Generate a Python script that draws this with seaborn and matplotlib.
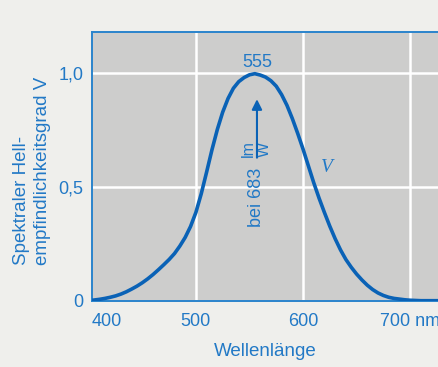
import numpy as np
import pandas as pd
import matplotlib
matplotlib.use("Agg")
import matplotlib.pyplot as plt
from matplotlib.transforms import blended_transform_factory
import seaborn as sns

# Data (spectral luminous efficiency V)
wavelength = [400, 405, 410, 415, 420, 425, 430, 435, 440, 445, 450, 455, 460, 465,
              470, 475, 480, 485, 490, 495, 500, 505, 510, 515, 520, 525, 530, 535,
              540, 545, 550, 555, 560, 565, 570, 575, 580, 585, 590, 595, 600, 605,
              610, 615, 620, 625, 630, 635, 640, 645, 650, 655, 660, 665, 670, 675,
              680, 685, 690, 695, 700, 710, 720, 730]
v_values = [0.000, 0.003, 0.006, 0.010, 0.015, 0.021, 0.029, 0.039, 0.051, 0.064,
            0.079, 0.096, 0.115, 0.136, 0.158, 0.181, 0.207, 0.240, 0.278, 0.326,
            0.388, 0.470, 0.565, 0.663, 0.752, 0.828, 0.888, 0.933, 0.962, 0.980,
            0.992, 0.997, 0.991, 0.982, 0.966, 0.942, 0.905, 0.858, 0.800, 0.735,
            0.666, 0.592, 0.518, 0.450, 0.387, 0.327, 0.272, 0.223, 0.181, 0.147,
            0.117, 0.091, 0.068, 0.049, 0.034, 0.023, 0.015, 0.010, 0.007, 0.004,
            0.002, 0.000, 0.000, 0.000]
x_ticks = [500, 600, 700]
x_ticklabels = ["500", "600", "700 nm"]
y_ticks = [0, 0.5, 1.0]
y_ticklabels = ["0", "0,5", "1,0"]
peak_wavelength = 555

df = pd.DataFrame({"Wellenlänge": wavelength, "V": v_values})

sns.set_theme(style="white")
plt.rcParams['font.family'] = ['Liberation Sans', 'DejaVu Sans']

TEXT = "#2279c6"
CURVE = "#0a62b6"
SPINE = "#2a84cc"
PLOTBG = "#cdcdcc"
PAGEBG = "#efefec"

fig = plt.figure(figsize=(4.38, 3.67), dpi=100, facecolor=PAGEBG)
ax = fig.add_axes([92/438, 1 - 300.7/367, 1 - 92/438, (300.7 - 32)/367])
ax.set_facecolor(PLOTBG)

sns.lineplot(data=df, x="Wellenlänge", y="V", ax=ax, color=CURVE, linewidth=2.6,
             zorder=3, sort=True)

ax.set_xlim(403, 726)
ax.set_ylim(0, 1.18)

ax.set_xticks(x_ticks)
ax.set_xticklabels(x_ticklabels)
ax.set_yticks(y_ticks)
ax.set_yticklabels(y_ticklabels)
ax.tick_params(axis='both', length=0, labelsize=13, colors=TEXT)
ax.tick_params(axis='x', pad=9)
ax.tick_params(axis='y', pad=6)

ax.grid(True, color="white", linewidth=1.8, zorder=1)
ax.set_axisbelow(True)

for side in ["left", "top", "bottom"]:
    ax.spines[side].set_visible(True)
    ax.spines[side].set_color(SPINE)
    ax.spines[side].set_linewidth(1.4)
ax.spines["right"].set_visible(False)

ax.set_xlabel("")
ax.set_ylabel("")

# "400" label sits just right of the axis
trans = blended_transform_factory(ax.transData, ax.transAxes)
ax.text(417, -0.047, "400", transform=trans, ha="center", va="top",
        fontsize=13, color=TEXT)

fig.text(265/438, 1 - 352/367, "Wellenlänge", ha="center", va="center",
         fontsize=13.5, color=TEXT)
fig.text(32/438, 1 - 265/367, "Spektraler Hell-\nempfindlichkeitsgrad V",
         rotation=90, ha="center", va="bottom", multialignment="left",
         fontsize=13.5, color=TEXT, linespacing=1.25)

# annotations
ax.text(peak_wavelength + 2, 1.045, "555", ha="center", va="center",
        fontsize=13, color=TEXT)
ax.text(peak_wavelength + 2, 0.322, "bei 683", rotation=90, ha="center",
        va="bottom", fontsize=13, color=TEXT)
ax.text(548.8, 0.666, "lm", rotation=90, ha="center", va="center",
        fontsize=11.5, color=TEXT)
ax.text(563.5, 0.666, "W", rotation=90, ha="center", va="center",
        fontsize=11.5, color=TEXT)
ax.annotate("", xy=(peak_wavelength + 2, 0.885), xytext=(peak_wavelength + 2, 0.628),
            arrowprops=dict(arrowstyle="-|>", color=CURVE, lw=1.5,
                            mutation_scale=15, shrinkA=0, shrinkB=0))
ax.text(622, 0.585, "V", family="Liberation Serif", style="italic",
        fontsize=14, color=TEXT, ha="center", va="center")

fig.savefig("out.png", dpi=100, facecolor=PAGEBG)
